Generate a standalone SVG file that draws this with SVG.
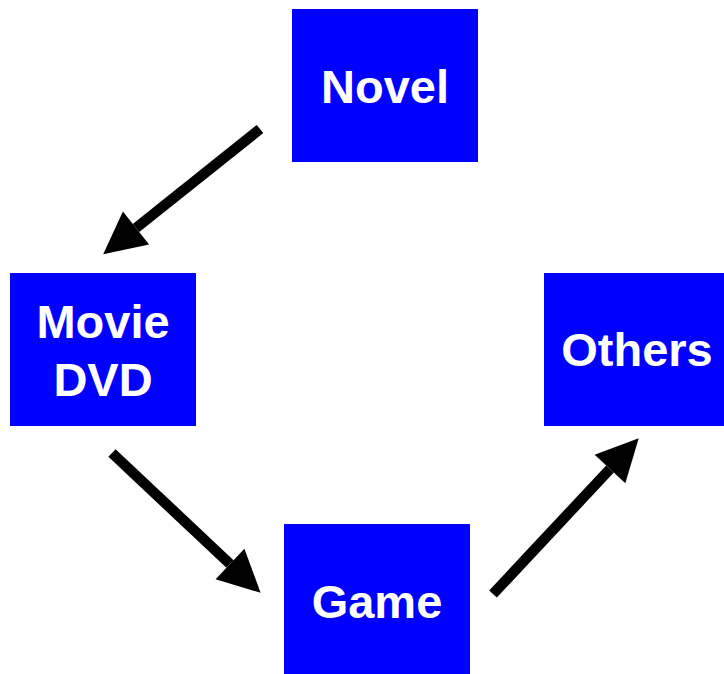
<svg xmlns="http://www.w3.org/2000/svg" width="724" height="674" viewBox="0 0 724 674">
<style>
.box{fill:#0000FF}
.lbl{fill:#FFFFFF;font-family:"Liberation Sans",Arial,sans-serif;font-weight:bold;font-size:47px;text-anchor:middle}
.conn{stroke:#000000;stroke-width:10.5;fill:none}
</style>
<defs>
<marker id="ah" markerUnits="userSpaceOnUse" markerWidth="44" markerHeight="44" refX="0" refY="21" orient="auto" overflow="visible">
<path d="M0,0 L42,21 L0,42 Z" fill="#000000"/>
</marker>
</defs>
<rect width="724" height="674" fill="#FFFFFF"/>
<g id="novel">
<rect class="box" x="292" y="9" width="186" height="153"/>
<text class="lbl" x="385" y="103">Novel</text>
</g>
<g id="movie-dvd">
<rect class="box" x="10" y="273" width="186" height="153"/>
<text class="lbl" x="103" y="338">Movie</text>
<text class="lbl" x="103" y="396">DVD</text>
</g>
<g id="others">
<rect class="box" x="544" y="273" width="180" height="153"/>
<text class="lbl" x="637" y="366">Others</text>
</g>
<g id="game">
<rect class="box" x="284" y="524" width="186" height="150"/>
<text class="lbl" x="377" y="618">Game</text>
</g>
<g id="connectors">
<line class="conn" x1="260" y1="129" x2="136" y2="228" marker-end="url(#ah)"/>
<line class="conn" x1="112" y1="453" x2="230" y2="564" marker-end="url(#ah)"/>
<line class="conn" x1="493" y1="594" x2="610" y2="469" marker-end="url(#ah)"/>
</g>
</svg>
